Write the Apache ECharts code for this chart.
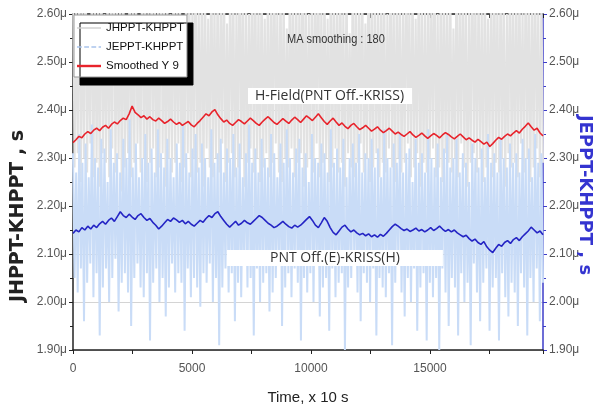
<!DOCTYPE html>
<html>
<head>
<meta charset="utf-8">
<script src="https://cdn.jsdelivr.net/npm/echarts@6/dist/echarts.min.js"></script>
<style>html,body{margin:0;padding:0;background:#fff}#c{width:607px;height:410px}</style>
</head>
<body>
<div id="c"></div>
<script>
// ---- data (values in microseconds) ----
var X_MAX = 19750;
var yTicks = [1.90, 2.00, 2.10, 2.20, 2.30, 2.40, 2.50, 2.60];
var xTicks = [0, 5000, 10000, 15000];
var seriesNames = ['JHPPT-KHPPT', 'JEPPT-KHPPT', 'Smoothed Y 9', 'Smoothed JE'];

// JHPPT-KHPPT raw (alternating peak / trough samples)
var jhHigh = [2.68,2.61,2.74,2.64,2.77,2.58,2.70,2.66,2.63,2.75,2.60,2.69,2.65,2.78,2.62,2.67,2.72,2.59,2.73,2.64,
2.70,2.57,2.76,2.66,2.62,2.71,2.68,2.61,2.79,2.65,2.67,2.60,2.74,2.63,2.69,2.56,2.72,2.66,2.64,2.76,
2.61,2.70,2.67,2.59,2.75,2.63,2.68,2.65,2.73,2.58,2.71,2.66,2.62,2.77,2.64,2.69,2.60,2.74,2.67,2.63,
2.72,2.59,2.68,2.65,2.76,2.61,2.70,2.66,2.57,2.73,2.64,2.69,2.62,2.75,2.67,2.60,2.71,2.65,2.78,2.63,
2.68,2.59,2.72,2.66,2.64,2.74,2.61,2.69,2.56,2.73,2.67,2.63,2.70,2.58,2.76,2.65,2.68,2.62,2.72,2.66,
2.60,2.74,2.64,2.69,2.67,2.61,2.77,2.63,2.70,2.59,2.73,2.66,2.62,2.68,2.65,2.75,2.60,2.71,2.67,2.64,
2.69,2.57,2.74,2.63,2.70,2.66,2.61,2.76,2.65,2.68,2.62,2.72,2.59,2.67,2.73,2.64,2.69,2.66,2.60,2.75,
2.63,2.70,2.68,2.61,2.74,2.65,2.67,2.71,2.62,2.66];
var jhLow = [2.28,2.31,2.25,2.30,2.27,2.33,2.26,2.29,2.24,2.31,2.29,2.26,2.32,2.27,2.30,2.23,2.28,2.31,2.26,2.29,
2.33,2.27,2.30,2.25,2.29,2.32,2.26,2.28,2.31,2.24,2.30,2.27,2.29,2.33,2.25,2.28,2.31,2.26,2.30,2.27,
2.29,2.24,2.32,2.28,2.26,2.30,2.27,2.33,2.25,2.29,2.31,2.26,2.28,2.30,2.24,2.29,2.32,2.27,2.30,2.25,
2.28,2.31,2.26,2.29,2.33,2.27,2.25,2.30,2.28,2.32,2.26,2.29,2.31,2.24,2.28,2.30,2.27,2.33,2.26,2.29,
2.30,2.25,2.28,2.32,2.27,2.29,2.24,2.31,2.28,2.26,2.29,2.33,2.27,2.30,2.25,2.28,2.31,2.26,2.29,2.27,
2.32,2.28,2.25,2.30,2.27,2.29,2.33,2.26,2.28,2.31,2.24,2.29,2.27,2.30,2.32,2.26,2.28,2.25,2.31,2.29,
2.27,2.30,2.26,2.33,2.28,2.24,2.29,2.31,2.27,2.30,2.25,2.28,2.32,2.26,2.29,2.27,2.30,2.24,2.31,2.28,
2.29,2.26,2.33,2.27,2.30,2.25,2.28,2.32,2.26,2.29];

// JEPPT-KHPPT raw (alternating peak / trough samples)
var jeHigh = [2.31,2.27,2.35,2.29,2.33,2.26,2.37,2.30,2.28,2.34,2.32,2.25,2.36,2.29,2.31,2.27,2.34,2.30,2.38,2.28,
2.33,2.26,2.30,2.35,2.29,2.32,2.27,2.36,2.31,2.28,2.34,2.30,2.26,2.33,2.29,2.37,2.31,2.27,2.32,2.35,
2.28,2.33,2.30,2.26,2.36,2.29,2.31,2.34,2.27,2.32,2.30,2.35,2.28,2.33,2.26,2.31,2.37,2.29,2.32,2.27,
2.34,2.30,2.28,2.35,2.31,2.26,2.33,2.29,2.36,2.30,2.27,2.32,2.34,2.28,2.31,2.25,2.35,2.30,2.29,2.33,
2.31,2.27,2.36,2.29,2.32,2.28,2.34,2.26,2.30,2.33,2.29,2.35,2.27,2.31,2.30,2.34,2.28,2.32,2.26,2.36,
2.30,2.28,2.33,2.29,2.35,2.27,2.31,2.32,2.25,2.34,2.29,2.31,2.27,2.36,2.30,2.28,2.33,2.26,2.32,2.35,
2.28,2.30,2.34,2.27,2.31,2.29,2.25,2.33,2.30,2.28,2.32,2.26,2.35,2.29,2.31,2.27,2.34,2.30,2.28,2.33,
2.29,2.31,2.27,2.34,2.30,2.32,2.26,2.35,2.29,2.31];
var jeLow = [2.05,2.02,2.07,1.96,2.04,2.08,2.01,2.06,1.93,2.03,2.07,2.00,2.05,2.09,1.98,2.04,2.06,2.02,1.95,2.05,
2.08,2.03,2.01,2.06,1.92,2.04,2.07,2.00,2.05,1.97,2.03,2.08,2.02,2.06,2.04,1.94,2.07,2.01,2.05,2.03,
1.99,2.06,2.04,2.08,2.00,2.05,1.91,2.03,2.07,2.02,2.06,1.96,2.04,2.01,2.08,2.03,2.05,1.93,2.07,2.00,
2.04,2.06,1.98,2.02,2.05,2.08,1.95,2.03,2.06,2.01,2.07,2.04,1.92,2.05,2.02,2.06,2.00,2.08,1.97,2.03,
2.05,1.94,2.07,2.01,2.04,2.06,1.90,2.03,2.05,2.08,2.02,1.96,2.06,2.04,2.00,2.07,1.93,2.05,2.03,2.01,
2.06,1.91,2.04,2.08,2.02,1.97,2.05,2.00,2.07,1.94,2.03,2.06,1.92,2.04,2.01,2.05,1.90,2.07,2.02,1.95,
2.05,2.03,1.93,2.06,2.00,2.04,1.91,2.08,2.02,1.96,2.04,2.07,1.94,2.03,2.05,1.92,2.06,2.01,1.97,2.04,
2.02,1.95,2.06,2.03,1.93,2.05,2.00,2.07,1.96,2.04];

// Smoothed JHPPT (red, MA 180)
var smoothJH = [2.332,2.338,2.345,2.342,2.350,2.355,2.351,2.358,2.362,2.357,
2.364,2.368,2.362,2.370,2.375,2.371,2.378,2.383,2.380,2.392,
2.408,2.395,2.390,2.384,2.388,2.381,2.386,2.380,2.377,2.383,
2.378,2.372,2.376,2.381,2.375,2.370,2.374,2.368,2.372,2.376,
2.369,2.365,2.372,2.378,2.385,2.392,2.388,2.396,2.401,2.390,
2.382,2.375,2.379,2.372,2.368,2.374,2.380,2.376,2.371,2.377,
2.383,2.378,2.372,2.368,2.375,2.381,2.386,2.380,2.374,2.370,
2.376,2.382,2.377,2.372,2.379,2.385,2.380,2.374,2.381,2.388,
2.383,2.378,2.385,2.392,2.384,2.376,2.370,2.377,2.383,2.375,
2.368,2.373,2.366,2.361,2.368,2.372,2.365,2.359,2.363,2.368,
2.362,2.356,2.360,2.365,2.358,2.353,2.357,2.362,2.356,2.350,
2.354,2.349,2.345,2.350,2.355,2.348,2.343,2.347,2.352,2.346,
2.341,2.346,2.351,2.347,2.342,2.348,2.353,2.349,2.344,2.340,
2.345,2.350,2.344,2.338,2.342,2.337,2.333,2.339,2.334,2.329,
2.333,2.324,2.330,2.337,2.343,2.339,2.345,2.350,2.346,2.352,
2.357,2.352,2.360,2.366,2.373,2.365,2.358,2.362,2.352,2.346];

// Smoothed JEPPT (blue, MA 180)
var smoothJE = [2.143,2.150,2.146,2.155,2.150,2.158,2.152,2.160,2.155,2.163,
2.168,2.162,2.170,2.175,2.168,2.178,2.188,2.180,2.176,2.183,
2.177,2.172,2.180,2.184,2.176,2.170,2.174,2.166,2.160,2.152,
2.158,2.165,2.172,2.168,2.175,2.171,2.166,2.170,2.163,2.168,
2.162,2.158,2.164,2.170,2.166,2.174,2.180,2.176,2.184,2.188,
2.178,2.170,2.162,2.156,2.162,2.168,2.160,2.164,2.170,2.165,
2.162,2.168,2.174,2.180,2.176,2.170,2.164,2.160,2.155,2.158,
2.163,2.168,2.162,2.157,2.154,2.160,2.156,2.160,2.166,2.172,
2.178,2.170,2.160,2.155,2.165,2.176,2.168,2.155,2.145,2.140,
2.148,2.156,2.160,2.152,2.146,2.150,2.144,2.140,2.143,2.138,
2.142,2.136,2.140,2.135,2.141,2.137,2.143,2.150,2.157,2.162,
2.158,2.153,2.149,2.152,2.147,2.150,2.154,2.148,2.151,2.146,
2.150,2.155,2.149,2.153,2.158,2.152,2.147,2.151,2.146,2.150,
2.144,2.140,2.136,2.139,2.132,2.127,2.131,2.124,2.120,2.126,
2.115,2.108,2.103,2.112,2.120,2.116,2.124,2.128,2.122,2.130,
2.134,2.128,2.136,2.142,2.148,2.156,2.150,2.144,2.148,2.140];

// ---- build series data (x from sample index) ----
function interleave(hi, lo) {
  var n = hi.length * 2, out = [];
  for (var i = 0; i < hi.length; i++) {
    out.push([(2 * i) * X_MAX / (n - 1), hi[i]]);
    out.push([(2 * i + 1) * X_MAX / (n - 1), lo[i]]);
  }
  return out;
}
function spread(arr) {
  return arr.map(function (v, i) { return [i * X_MAX / (arr.length - 1), v]; });
}

var chart = echarts.init(document.getElementById('c'), null, {renderer: 'canvas'});
var fmt = function (v) { return v.toFixed(2) + 'μ'; };
var labelFont = {color: '#555', fontSize: 12, fontFamily: 'Liberation Sans, Arial, sans-serif'};

chart.setOption({
  animation: false,
  backgroundColor: '#fff',
  grid: {left: 73, right: 64, top: 14, bottom: 59, containLabel: false},
  xAxis: [{
    type: 'value', min: 0, max: X_MAX, interval: 5000,
    axisLine: {show: true, onZero: false, lineStyle: {color: '#222', width: 1.5}},
    axisTick: {show: true, length: 4, lineStyle: {color: '#222'}},
    minorTick: {show: true, splitNumber: 2, length: 4, lineStyle: {color: '#222'}},
    axisLabel: Object.assign({margin: 13, showMaxLabel: false, formatter: function (v) { return xTicks.indexOf(v) >= 0 ? String(v) : ''; }}, labelFont),
    splitLine: {show: false},
    name: 'Time, x 10 s', nameLocation: 'middle', nameGap: 40,
    nameTextStyle: {color: '#222', fontSize: 15, fontFamily: 'Liberation Sans, Arial, sans-serif'}
  }, {
    type: 'value', position: 'top', min: 0, max: X_MAX, interval: 5000,
    axisLine: {show: true, onZero: false, lineStyle: {color: '#222', width: 1.5}},
    axisTick: {show: true, inside: true, length: 4, lineStyle: {color: '#222'}},
    minorTick: {show: true, splitNumber: 2, length: 4, lineStyle: {color: '#222'}},
    axisLabel: {show: false}, splitLine: {show: false}
  }],
  yAxis: [{
    type: 'value', min: 1.9, max: 2.6, interval: 0.1, position: 'left',
    axisLine: {show: true, onZero: false, lineStyle: {color: '#222', width: 1.5}},
    axisTick: {show: true, length: 4, lineStyle: {color: '#222'}},
    minorTick: {show: true, splitNumber: 2, length: 3, lineStyle: {color: '#222'}},
    axisLabel: Object.assign({margin: 6, formatter: fmt}, labelFont),
    splitLine: {show: true, lineStyle: {color: '#d4d4d4', width: 1}}
  }, {
    type: 'value', min: 1.9, max: 2.6, interval: 0.1, position: 'right',
    axisLine: {show: true, onZero: false, lineStyle: {color: '#3c3cc8', width: 1.5}},
    axisTick: {show: true, length: 4, lineStyle: {color: '#3c3cc8'}},
    minorTick: {show: true, splitNumber: 2, length: 3, lineStyle: {color: '#3c3cc8'}},
    axisLabel: Object.assign({margin: 6, formatter: fmt}, labelFont),
    splitLine: {show: false}
  }],
  legend: {
    orient: 'vertical', left: 74, top: 15,
    padding: [7, 3, 5, 3], itemGap: 7, itemWidth: 24, itemHeight: 13,
    backgroundColor: '#fff', borderColor: '#999', borderWidth: 1,
    shadowColor: '#000', shadowBlur: 0, shadowOffsetX: 6, shadowOffsetY: 8,
    textStyle: {color: '#111', fontSize: 11.5, fontFamily: 'Liberation Sans, Arial, sans-serif'},
    data: [
      {name: seriesNames[0], icon: 'path://M0,0L10,0L10,0.6L0,0.6Z', itemStyle: {color: '#d0d0d0'}},
      {name: seriesNames[1], icon: 'path://M0,0L2,0L2,0.6L0,0.6ZM3,0L5,0L5,0.6L3,0.6ZM6,0L8,0L8,0.6L6,0.6ZM9,0L10,0L10,0.6L9,0.6Z', itemStyle: {color: '#a9c3ec'}},
      {name: seriesNames[2], icon: 'path://M0,0L10,0L10,1L0,1Z', itemStyle: {color: '#e8232b'}}
    ]
  },
  series: [{
    name: seriesNames[0], type: 'line', xAxisIndex: 0, yAxisIndex: 0, symbol: 'none',
    data: interleave(jhHigh, jhLow), lineStyle: {color: '#e2e2e2', width: 2}, itemStyle: {color: '#e2e2e2'}, z: 1
  }, {
    name: seriesNames[1], type: 'line', xAxisIndex: 0, yAxisIndex: 1, symbol: 'none',
    data: interleave(jeHigh, jeLow), lineStyle: {color: '#c9dcf7', width: 2}, itemStyle: {color: '#c9dcf7'}, z: 2
  }, {
    name: seriesNames[2], type: 'line', xAxisIndex: 0, yAxisIndex: 0, symbol: 'none',
    data: spread(smoothJH), lineStyle: {color: '#e8232b', width: 1.6}, itemStyle: {color: '#e8232b'}, z: 4
  }, {
    name: seriesNames[3], type: 'line', xAxisIndex: 0, yAxisIndex: 1, symbol: 'none',
    data: spread(smoothJE), lineStyle: {color: '#2424c4', width: 1.6}, itemStyle: {color: '#2424c4'}, z: 4
  }],
  graphic: [
    {type: 'text', left: 287, top: 33, z: 10, scaleX: 0.88,
     style: {text: 'MA smoothing : 180', fill: '#333', font: '12.5px "Liberation Sans", Arial, sans-serif'}},
    {type: 'text', left: 248, top: 88, z: 10,
     style: {text: 'H-Field(PNT Off.-KRISS)', fill: '#333', font: '14px "Open Sans", sans-serif',
             backgroundColor: '#fff', padding: [1, 8, 1, 7]}},
    {type: 'text', left: 227, top: 250, z: 10,
     style: {text: 'PNT Off.(E)-KRISS(H)', fill: '#333', font: '14px "Open Sans", sans-serif',
             backgroundColor: '#fff', padding: [1, 43, 1, 43]}},
    {type: 'text', x: 18, y: 216, rotation: Math.PI / 2, z: 10,
     style: {text: 'JHPPT-KHPPT , s', fill: '#222', font: 'bold 19px "DejaVu Sans", sans-serif', align: 'center', verticalAlign: 'middle'}},
    {type: 'text', x: 585, y: 195, rotation: -Math.PI / 2, z: 10,
     style: {text: 'JEPPT-KHPPT , s', fill: '#3434d0', font: 'bold 18px "DejaVu Sans", sans-serif', align: 'center', verticalAlign: 'middle'}}
  ]
});
</script>
</body>
</html>
